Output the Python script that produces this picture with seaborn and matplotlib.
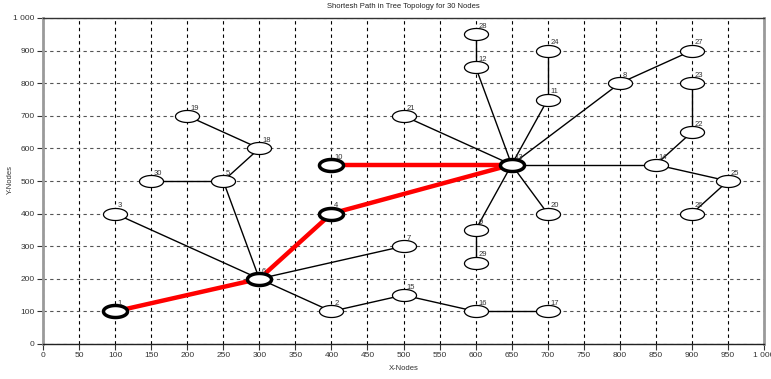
import numpy as np
import pandas as pd
import matplotlib
matplotlib.use("Agg")
import matplotlib.pyplot as plt
import seaborn as sns
from matplotlib.path import Path
from matplotlib.ticker import MultipleLocator, FuncFormatter

# Node coordinates (node id i sits at node_x[i-1], node_y[i-1])
node_ids = list(range(1, 31))
node_x = [100, 400, 100, 400, 250, 300, 500, 800, 600, 400,
          700, 600, 650, 850, 500, 600, 700, 300, 200, 700,
          500, 900, 900, 700, 950, 900, 900, 600, 600, 150]
node_y = [100, 100, 400, 400, 500, 200, 300, 800, 350, 550,
          750, 850, 550, 550, 150, 100, 100, 600, 700, 400,
          700, 650, 800, 900, 500, 400, 900, 950, 250, 500]

# Tree links (source -> destination)
tree_src = [6, 6, 6, 6, 5, 5, 18, 2, 15, 16, 13, 13, 12, 13, 11, 13, 8, 13, 14, 22, 14, 25, 13, 13, 9]
tree_dst = [3, 5, 7, 2, 30, 18, 19, 15, 16, 17, 21, 12, 28, 11, 24, 8, 27, 14, 22, 23, 25, 26, 20, 9, 29]

# Shortest path through the tree
path_nodes = [1, 6, 4, 13, 10]

title_text = "Shortesh Path in Tree Topology for 30 Nodes"
x_label = "X-Nodes"
y_label = "Y-Nodes"

nodes = pd.DataFrame({"id": node_ids, "x": node_x, "y": node_y}).set_index("id")


def edge_frame(src, dst):
    rows = []
    for k, (a, b) in enumerate(zip(src, dst)):
        rows.append({"edge": k, "x": nodes.loc[a, "x"], "y": nodes.loc[a, "y"]})
        rows.append({"edge": k, "x": nodes.loc[b, "x"], "y": nodes.loc[b, "y"]})
    return pd.DataFrame(rows)


tree_edges = edge_frame(tree_src, tree_dst)
path_edges = edge_frame(path_nodes[:-1], path_nodes[1:])

sns.set_style("white")
plt.rcParams["font.family"] = ["Liberation Sans", "DejaVu Sans"]

fig = plt.figure(figsize=(7.71, 3.79), dpi=100)
ax = fig.add_axes([43 / 771, 1 - 344 / 379, 721 / 771, 326 / 379])

# Dashed grid
ax.set_axisbelow(True)
ax.xaxis.grid(True, which="major", color="black", lw=0.8, ls=(0, (3, 3)))
ax.yaxis.grid(True, which="major", color="#555555", lw=0.8, ls=(0, (3, 3)))

# Links
sns.lineplot(data=tree_edges, x="x", y="y", units="edge", estimator=None,
             sort=False, color="black", lw=1.0, ax=ax, zorder=2)
sns.lineplot(data=path_edges, x="x", y="y", units="edge", estimator=None,
             sort=False, color="#ff0000", lw=3.2, ax=ax, zorder=3)

# Elliptical node marker
t = np.linspace(0, 2 * np.pi, 72)
ellipse = Path(np.column_stack([np.cos(t), 0.5 * np.sin(t)]), closed=True)

on_path = nodes.index.isin(path_nodes)
plain = nodes[~on_path].reset_index()
bold = nodes[on_path].reset_index()

sns.scatterplot(data=plain, x="x", y="y", marker=ellipse, s=300,
                color="white", edgecolor="black", linewidth=0.9, ax=ax, zorder=4)
sns.scatterplot(data=bold, x="x", y="y", marker=ellipse, s=300,
                color="white", edgecolor="black", linewidth=2.5, ax=ax, zorder=5)

for nid, row in nodes.iterrows():
    ax.annotate(str(nid), (row["x"], row["y"]), xytext=(2, 3),
                textcoords="offset points", fontsize=5.5, color="#333333",
                ha="left", va="bottom", zorder=6)

ax.set_xlim(0, 1000)
ax.set_ylim(0, 1000)
ax.xaxis.set_major_locator(MultipleLocator(50))
ax.xaxis.set_minor_locator(MultipleLocator(10))
ax.yaxis.set_major_locator(MultipleLocator(100))
ax.yaxis.set_minor_locator(MultipleLocator(50))
fmt = FuncFormatter(lambda v, p: f"{int(round(v)):,}".replace(",", " "))
ax.xaxis.set_major_formatter(fmt)
ax.yaxis.set_major_formatter(fmt)
ax.tick_params(which="major", direction="out", length=4, width=0.8,
               labelsize=6, labelcolor="#333333", color="#333333", pad=2)
ax.tick_params(which="minor", direction="out", length=2, width=0.6, color="#333333")
ax.tick_params(axis="x", bottom=True, top=False)
ax.tick_params(axis="y", left=True, right=False)

for side, col, lw in [("left", "#9a9a9a", 2.0), ("right", "#9a9a9a", 2.0),
                      ("top", "#333333", 1.0), ("bottom", "#222222", 1.0)]:
    ax.spines[side].set_visible(True)
    ax.spines[side].set_color(col)
    ax.spines[side].set_linewidth(lw)

ax.set_xlabel(x_label, fontsize=5.5, color="#333333")
ax.xaxis.set_label_coords(361 / 721, -21 / 326)
ax.set_ylabel(y_label, fontsize=5.5, color="#333333")
ax.yaxis.set_label_coords(-29 / 721, 165 / 326)
ax.set_title(title_text, fontsize=5.5, color="#222222", pad=7)

fig.savefig("out.png", dpi=100)
